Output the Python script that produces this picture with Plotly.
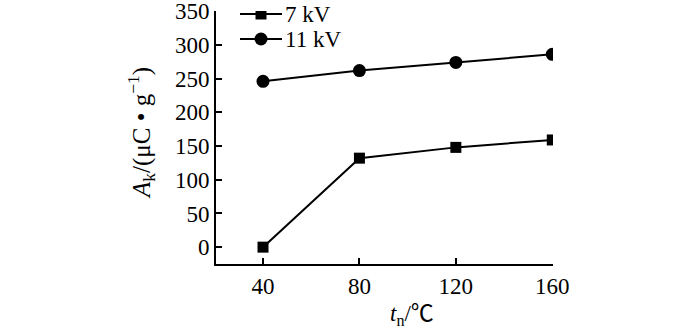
import plotly.graph_objects as go

# Temperature (°C) and charge density A_k (μC/g)
temps = [40, 80, 120, 160]
ak_7kv = [0, 132, 148, 159]
ak_11kv = [246, 262, 274, 286]
series_names = ["7 kV", "11 kV"]
y_ticks = [0, 50, 100, 150, 200, 250, 300, 350]
x_ticks = [40, 80, 120, 160]

FONT = "Liberation Serif"
CJK = "Noto Sans CJK SC"

# plot area in pixels
L, R, T, B = 216, 553, 11, 264
W, H = 700, 329


def px(x):
    return (x - L) / (R - L)


def py(y):
    return (B - y) / (B - T)


fig = go.Figure()
fig.add_trace(go.Scatter(
    x=temps, y=ak_7kv, name=series_names[0], mode="lines+markers",
    line=dict(color="black", width=2),
    marker=dict(symbol="square", size=11, color="black"),
    showlegend=False,
))
fig.add_trace(go.Scatter(
    x=temps, y=ak_11kv, name=series_names[1], mode="lines+markers",
    line=dict(color="black", width=2),
    marker=dict(symbol="circle", size=13, color="black"),
    showlegend=False,
))

# legend keys drawn on an overlay axis measured in pixels
leg_rows = [14, 39]
leg_symbols = ["square", "circle"]
leg_sizes = [11, 13]
for row, sym, sz, name in zip(leg_rows, leg_symbols, leg_sizes, series_names):
    fig.add_trace(go.Scatter(
        x=[240, 282], y=[row, row], mode="lines",
        line=dict(color="black", width=2),
        xaxis="x2", yaxis="y2", showlegend=False, hoverinfo="skip",
    ))
    fig.add_trace(go.Scatter(
        x=[261], y=[row], mode="markers",
        marker=dict(symbol=sym, size=sz, color="black"),
        xaxis="x2", yaxis="y2", showlegend=False, hoverinfo="skip",
    ))
    fig.add_annotation(
        x=px(283), y=py(row), xref="paper", yref="paper", text=name,
        showarrow=False, xanchor="left", yanchor="middle",
        font=dict(family=FONT, size=23, color="black"),
    )

axis_common = dict(
    showline=True, linecolor="black", linewidth=2,
    ticks="inside", ticklen=6, tickwidth=2, tickcolor="black",
    showgrid=False, zeroline=False, ticklabeloverflow="allow",
    automargin=False,
    tickfont=dict(family=FONT, size=23, color="black"),
)

# axis titles
fig.add_annotation(
    x=px(412), y=py(311), xref="paper", yref="paper", showarrow=False,
    text=f"<i>t</i><sub>n</sub>/<span style='font-family:{CJK}'>℃</span>",
    font=dict(family=FONT, size=23, color="black"),
    xanchor="center", yanchor="middle",
)
fig.add_annotation(
    x=px(141), y=py(133), xref="paper", yref="paper", showarrow=False,
    textangle=-90,
    text="<i>A</i><sub>k</sub>/(μC • g<sup>−1</sup>)",
    font=dict(family=FONT, size=25, color="black"),
    xanchor="center", yanchor="middle",
)

fig.update_layout(
    width=W, height=H,
    margin=dict(l=L, r=W - R, t=T, b=H - B, autoexpand=False),
    paper_bgcolor="white", plot_bgcolor="white",
    font=dict(family=FONT, size=23, color="black"),
    xaxis=dict(range=[20.5, 160.3], tickvals=x_ticks, **axis_common),
    yaxis=dict(range=[-25, 350.3], tickvals=y_ticks, **axis_common),
    xaxis2=dict(overlaying="x", range=[L, R], visible=False, fixedrange=True),
    yaxis2=dict(overlaying="y", range=[B, T], visible=False, fixedrange=True),
    showlegend=False,
)

fig.write_html("out.html")
